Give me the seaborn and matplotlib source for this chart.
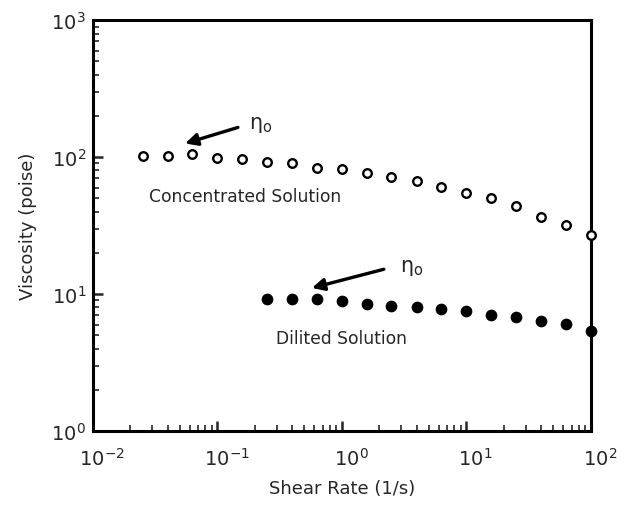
import numpy as np
import pandas as pd
import seaborn as sns
import matplotlib.pyplot as plt
import matplotlib.transforms as mtransforms
from matplotlib.ticker import LogLocator, FixedFormatter, FixedLocator, NullFormatter

# shear rate (1/s)
shear_conc = [0.025, 0.04, 0.063, 0.1, 0.158, 0.25, 0.4, 0.63, 1.0, 1.58,
              2.5, 4.0, 6.3, 10, 15.8, 25, 40, 63, 100]
visc_conc = [102, 102, 105, 99.5, 96.7, 92.4, 90.4, 84.1, 81.7, 77.3,
             72.3, 66.8, 60.7, 55.2, 50.0, 43.7, 36.9, 32.1, 27.1]

shear_dil = [0.25, 0.4, 0.63, 1.0, 1.58, 2.5, 4.0, 6.3, 10, 15.8, 25, 40, 63, 100]
visc_dil = [9.15, 9.15, 9.2, 8.87, 8.48, 8.24, 8.05, 7.78, 7.55, 7.06, 6.83, 6.38, 6.04, 5.4]

x_ticks = [0.01, 0.1, 1, 10, 100]
x_labels = ['$10^{-2}$', '$10^{-1}$', '$10^{0}$', '$10^{1}$', '$10^{2}$']
y_ticks = [1, 10, 100, 1000]
y_labels = ['$10^{0}$', '$10^{1}$', '$10^{2}$', '$10^{3}$']

sns.set_style('white')
plt.rcParams['font.family'] = ['DejaVu Sans']
plt.rcParams['mathtext.fontset'] = 'dejavusans'

conc = pd.DataFrame({'shear': shear_conc, 'visc': visc_conc})
dil = pd.DataFrame({'shear': shear_dil, 'visc': visc_dil})

fig = plt.figure(figsize=(6.24, 5.06), dpi=100)
ax = fig.add_axes([0.149, 0.146, 0.798, 0.812])

sns.scatterplot(data=conc, x='shear', y='visc', ax=ax, s=38, marker='o',
                facecolor='white', edgecolor='black', linewidth=1.7, zorder=5, clip_on=False)
sns.scatterplot(data=dil, x='shear', y='visc', ax=ax, s=55, marker='o',
                color='black', edgecolor='black', linewidth=1, zorder=5, clip_on=False)

ax.set_xscale('log')
ax.set_yscale('log')
ax.set_xlim(0.01, 100)
ax.set_ylim(1, 1000)

ax.xaxis.set_major_locator(FixedLocator(x_ticks))
ax.xaxis.set_major_formatter(FixedFormatter(x_labels))
ax.yaxis.set_major_locator(FixedLocator(y_ticks))
ax.yaxis.set_major_formatter(FixedFormatter(y_labels))
ax.xaxis.set_minor_locator(LogLocator(base=10, subs=np.arange(2, 10), numticks=20))
ax.yaxis.set_minor_locator(LogLocator(base=10, subs=np.arange(2, 10), numticks=20))
ax.xaxis.set_minor_formatter(NullFormatter())
ax.yaxis.set_minor_formatter(NullFormatter())

ax.tick_params(which='major', direction='in', length=7, width=1.8, labelsize=14,
               pad=5, bottom=True, left=True, top=False, right=False)
ax.tick_params(axis='x', which='major', pad=11)
ax.tick_params(which='minor', direction='in', length=4, width=1.2,
               bottom=True, left=True, top=False, right=False)

# x tick labels sit a little right of their ticks in the original
shift = mtransforms.ScaledTranslation(9 / 100, 0, fig.dpi_scale_trans)
for lab in ax.get_xticklabels():
    lab.set_transform(lab.get_transform() + shift)

for sp in ax.spines.values():
    sp.set_color('black')
    sp.set_linewidth(2.2)

ax.set_xlabel('Shear Rate (1/s)', fontsize=13, labelpad=8)
ax.set_ylabel('Viscosity (poise)', fontsize=13, labelpad=10)

arrow = dict(arrowstyle='-|>', color='black', lw=2.4, mutation_scale=18, shrinkA=0, shrinkB=0)
ax.annotate('', xy=(0.055, 126), xytext=(0.146, 165), arrowprops=arrow)
ax.text(0.18, 174, r'$\mathrm{\eta_o}$', fontsize=15, ha='left', va='center')
ax.annotate('', xy=(0.574, 11.1), xytext=(2.17, 15.2), arrowprops=arrow)
ax.text(2.9, 15.9, r'$\mathrm{\eta_o}$', fontsize=15, ha='left', va='center')

ax.text(0.028, 52, 'Concentrated Solution', fontsize=12.3, ha='left', va='center')
ax.text(0.295, 4.78, 'Dilited Solution', fontsize=12.3, ha='left', va='center')

fig.savefig('out.png', dpi=100, facecolor='white')
